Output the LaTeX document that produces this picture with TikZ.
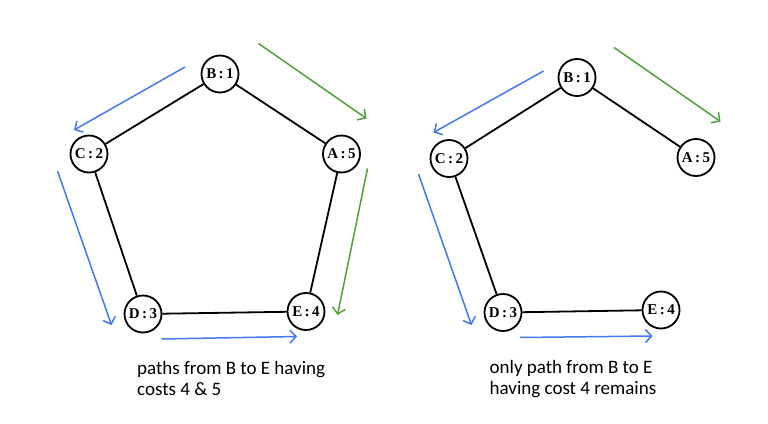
\documentclass[tikz,border=0pt]{standalone}
\usepackage{fontspec}
\newfontfamily\capfont{Carlito}
\newfontfamily\nodefont{Liberation Serif}
\usetikzlibrary{arrows.meta}
\definecolor{pathblue}{RGB}{66,120,240}
\definecolor{pathgreen}{RGB}{78,160,60}
\tikzset{
  vertex/.style={circle, draw=black, line width=1.8pt, minimum size=37pt, inner sep=0pt,
                 font=\nodefont\fontsize{15}{17}\selectfont\bfseries},
  edge/.style={line width=1.8pt, black},
  bluearrow/.style={pathblue, line width=1.5pt, -{Straight Barb[length=6pt,width=13pt,line width=1.5pt]}},
  greenarrow/.style={pathgreen, line width=1.5pt, -{Straight Barb[length=6pt,width=13pt,line width=1.5pt]}},
  caption/.style={anchor=north west, inner sep=0pt, align=left, font=\capfont\fontsize{19}{21}\selectfont}
}
\begin{document}
\begin{tikzpicture}[x=1pt,y=-1pt]
\useasboundingbox (0,0) rectangle (768,423);
% ---------- left graph ----------
\node[vertex] (LB) at (220,74) {B\,:\,1};
\node[vertex] (LC) at (89,154) {C\,:\,2};
\node[vertex] (LA) at (341.5,154) {A\,:\,5};
\node[vertex] (LD) at (143,314) {D\,:\,3};
\node[vertex] (LE) at (306,311.5) {E\,:\,4};
\draw[edge] (LB) -- (LC);
\draw[edge] (LB) -- (LA);
\draw[edge] (LC) -- (LD);
\draw[edge] (LD) -- (LE);
\draw[edge] (LA) -- (LE);
\coordinate (lbc1) at (185,67);
\coordinate (lbc2) at (74,130);
\coordinate (lcd1) at (57.5,171);
\coordinate (lcd2) at (111.5,325);
\coordinate (lde1) at (161.5,339);
\coordinate (lde2) at (297,336.5);
\coordinate (lba1) at (258.5,43.5);
\coordinate (lba2) at (366.5,118.5);
\coordinate (lae1) at (367.5,168.5);
\coordinate (lae2) at (337.5,315);
\draw[bluearrow] (lbc1) -- (lbc2);
\draw[bluearrow] (lcd1) -- (lcd2);
\draw[bluearrow] (lde1) -- (lde2);
\draw[greenarrow] (lba1) -- (lba2);
\draw[greenarrow] (lae1) -- (lae2);
\node[caption] (lcap) at (137,361) {paths from B to E having\\costs 4 \& 5};
% ---------- right graph ----------
\node[vertex] (RB) at (577,77.5) {B\,:\,1};
\node[vertex] (RC) at (449,158.5) {C\,:\,2};
\node[vertex] (RA) at (696,157.5) {A\,:\,5};
\node[vertex] (RD) at (503,312.5) {D\,:\,3};
\node[vertex] (RE) at (661,310) {E\,:\,4};
\draw[edge] (RB) -- (RC);
\draw[edge] (RB) -- (RA);
\draw[edge] (RC) -- (RD);
\draw[edge] (RD) -- (RE);
\coordinate (rbc1) at (543.5,71);
\coordinate (rbc2) at (433.5,132.5);
\coordinate (rcd1) at (418.5,174);
\coordinate (rcd2) at (471.5,325);
\coordinate (rde1) at (520,337.5);
\coordinate (rde2) at (652.5,336);
\coordinate (rba1) at (614,47.5);
\coordinate (rba2) at (720.5,121.5);
\draw[bluearrow] (rbc1) -- (rbc2);
\draw[bluearrow] (rcd1) -- (rcd2);
\draw[bluearrow] (rde1) -- (rde2);
\draw[greenarrow] (rba1) -- (rba2);
\node[caption] (rcap) at (489.5,360) {only path from B to E\\having cost 4 remains};
\end{tikzpicture}
\end{document}
